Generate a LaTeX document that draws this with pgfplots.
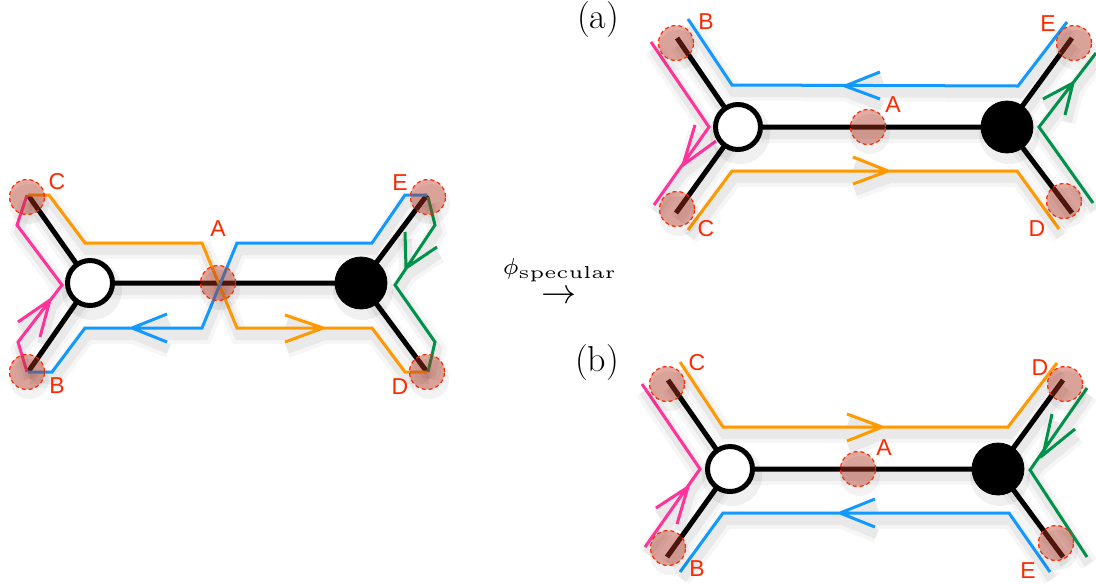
\documentclass[border=0pt]{standalone}
\usepackage{pgfplots}
\pgfplotsset{compat=1.18}
\usepackage{pgfplotstable}
\usepackage{fontspec}
\newfontfamily\lab{Liberation Sans}
\usepackage{graphicx}
\definecolor{cOr}{RGB}{255,153,0}
\definecolor{cBl}{RGB}{17,153,255}
\definecolor{cPk}{RGB}{255,51,153}
\definecolor{cGr}{RGB}{0,145,75}
\definecolor{cRd}{RGB}{255,40,0}
\definecolor{cFill}{RGB}{185,55,35}
\tikzset{
  shadA/.style={draw=black, draw opacity=0.035, line width=9pt, xshift=1pt, yshift=-3.5pt},
  shadB/.style={draw=black, draw opacity=0.05, line width=5pt, xshift=1pt, yshift=-3.5pt},
  rlab/.style={text=cRd, font=\lab\fontsize{11.5}{13}\selectfont, inner sep=0pt},
}

\pgfplotstableread{
x y
28 195
90 283
28 372
nan nan
90 283
361 283
nan nan
427 195
361 283
427 372
nan nan
677 38
738 127
676 213
nan nan
738 127
1007 127
nan nan
1072 38
1007 127
1072 213
nan nan
668 380
730 469
667 557
nan nan
730 469
998 469
nan nan
1063 380
998 469
1063 557
}\blk

\pgfplotstableread{
x y
28 195
49 195
85 243
202 243
237 328
372 328
405 372
427 372
nan nan
285 315
323 328
285 342
nan nan
688 230
732 171
1017 171
1059 229
nan nan
853 157
888 171
853 184
nan nan
680 362
723 427
1008 427
1057 363
nan nan
847 414
882 427
847 441
}\orng

\pgfplotstableread{
x y
28 372
52 372
85 328
202 328
237 243
372 243
405 195
427 195
nan nan
167 314
132 328
167 342
nan nan
688 19
732 85
1018 86
1067 22
nan nan
880 72
845 86
880 99
nan nan
680 572
723 513
1009 513
1050 572
nan nan
875 499
840 513
875 527
}\blu

\pgfplotstableread{
x y
27 195
17 225
62 285
18 342
27 372
nan nan
18 322
50 300
40 337
nan nan
651 42
709 127
654 205
nan nan
695 125
683 165
716 141
nan nan
642 384
700 469
645 547
nan nan
656 508
688 487
677 524
}\pnk

\pgfplotstableread{
x y
428 197
435 225
395 285
435 342
428 372
nan nan
437 247
406 268
405 232
nan nan
1096 53
1039 127
1093 203
nan nan
1043 99
1073 83
1065 115
nan nan
1087 388
1030 470
1087 557
nan nan
1052 414
1043 455
1075 429
}\grn

\pgfplotstableread{
x y
90 283
738 127
730 469
}\whitec

\pgfplotstableread{
x y
361 283
1007 127
998 469
}\blackc

\pgfplotstableread{
x y
27 197
27 372
218 283
428 197
427 372
676 43
677 209
1074 43
1064 201
868 127
667 384
668 548
1065 384
1056 543
858 469
}\redc

\begin{document}
\begin{tikzpicture}
\begin{axis}[
  hide axis, scale only axis,
  width=548pt, height=291.5pt,
  xmin=0, xmax=1096, ymin=0, ymax=583,
  y dir=reverse, clip=false,
  unbounded coords=jump,
]
\addplot[draw=none, mark=none] coordinates {(0,0) (1096,583)};
% shadows
\addplot[shadA, mark=none] table {\blk};
\addplot[shadB, mark=none] table {\blk};
\addplot[shadA, mark=none] table {\orng};
\addplot[shadB, mark=none] table {\orng};
\addplot[shadA, mark=none] table {\blu};
\addplot[shadB, mark=none] table {\blu};
\addplot[shadA, mark=none] table {\pnk};
\addplot[shadB, mark=none] table {\pnk};
\addplot[shadA, mark=none] table {\grn};
\addplot[shadB, mark=none] table {\grn};
\addplot[draw=none, only marks, mark=*, mark size=15pt, mark options={fill=black, fill opacity=0.06, draw opacity=0}, xshift=1pt, yshift=-3.5pt] table {\whitec};
\addplot[draw=none, only marks, mark=*, mark size=15pt, mark options={fill=black, fill opacity=0.06, draw opacity=0}, xshift=1pt, yshift=-3.5pt] table {\blackc};
\addplot[draw=none, only marks, mark=*, mark size=10pt, mark options={fill=black, fill opacity=0.05, draw opacity=0}, xshift=1pt, yshift=-3.5pt] table {\redc};
% lines
\addplot[black, line width=2.5pt, mark=none] table {\blk};
\addplot[cOr, line width=1.5pt, mark=none] table {\orng};
\addplot[cBl, line width=1.5pt, mark=none] table {\blu};
\addplot[cPk, line width=1.5pt, mark=none] table {\pnk};
\addplot[cGr, line width=1.5pt, mark=none] table {\grn};
% nodes
\addplot[only marks, mark=*, mark size=11.25pt, mark options={fill=white, draw=black, line width=2.5pt}] table {\whitec};
\addplot[only marks, mark=*, mark size=13pt, mark options={fill=black, draw=black}] table {\blackc};
\addplot[only marks, mark=*, mark size=8.75pt, mark options={fill=cFill, fill opacity=0.42, draw=cRd, draw opacity=1, line width=0.6pt, dash pattern=on 2pt off 1.5pt}] table {\redc};
% labels
\node[rlab] at (axis cs:57,182) {C};
\node[rlab] at (axis cs:218,229) {A};
\node[rlab] at (axis cs:400,183) {E};
\node[rlab] at (axis cs:57,386) {B};
\node[rlab] at (axis cs:400,387) {D};
\node[rlab] at (axis cs:706,22) {B};
\node[rlab] at (axis cs:893,105) {A};
\node[rlab] at (axis cs:1048,24) {E};
\node[rlab] at (axis cs:706,229) {C};
\node[rlab] at (axis cs:1037,229) {D};
\node[rlab] at (axis cs:697,363) {C};
\node[rlab] at (axis cs:884,448) {A};
\node[rlab] at (axis cs:1040,368) {D};
\node[rlab] at (axis cs:697,569) {B};
\node[rlab] at (axis cs:1028,571) {E};
\node[inner sep=0pt] at (axis cs:598,20) {\fontsize{18}{20}\selectfont (a)};
\node[inner sep=0pt] at (axis cs:597,362) {\fontsize{18}{20}\selectfont (b)};
\node[inner sep=0pt, anchor=base] at (axis cs:560,274) {\scalebox{1.65}{$\scriptstyle\phi_{\scalebox{1.2}[1.05]{$\scriptscriptstyle\mathrm{specular}$}}$}};
\node[inner sep=0pt] at (axis cs:559,297) {\scalebox{1.75}{$\to$}};
\end{axis}
\pgfresetboundingbox
\useasboundingbox (current axis.south west) rectangle (current axis.north east);
\end{tikzpicture}
\end{document}
